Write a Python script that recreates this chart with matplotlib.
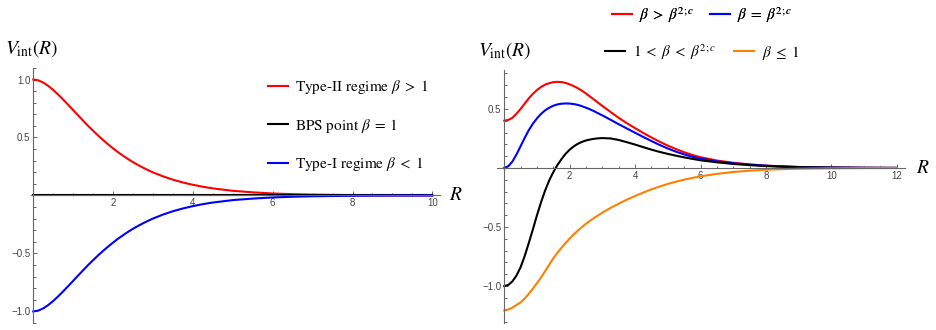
import numpy as np
import matplotlib.pyplot as plt
from matplotlib.ticker import FixedLocator, MultipleLocator

plt.rcParams['mathtext.fontset'] = 'stix'
plt.rcParams['font.family'] = 'STIXGeneral'

# left panel: readings
r_left = [0, 0.125, 0.25, 0.375, 0.5, 0.625, 0.75, 0.875, 1.0, 1.125, 1.25,
          1.375, 1.5, 1.625, 1.75, 1.875, 2.0, 2.125, 2.25, 2.375, 2.5,
          2.625, 2.75, 2.875, 3.0, 3.25, 3.5, 3.75, 4.0, 4.25, 4.5, 5.0, 5.5,
          6.0, 6.5, 7.0, 7.5, 8.0, 9.0, 10.0]
type2 = [1.0, 0.993, 0.974, 0.945, 0.91, 0.87, 0.827, 0.782, 0.736, 0.69,
         0.645, 0.6, 0.558, 0.517, 0.478, 0.441, 0.406, 0.373, 0.343, 0.314,
         0.287, 0.263, 0.24, 0.219, 0.199, 0.165, 0.136, 0.112, 0.092, 0.075,
         0.061, 0.04, 0.027, 0.017, 0.011, 0.007, 0.0047, 0.003, 0.0012,
         0.0005]
bps = [0.0] * len(r_left)
type1 = [-v for v in type2]

# right panel
r_right = [0, 0.125, 0.25, 0.375, 0.5, 0.625, 0.75, 0.875, 1.0, 1.125, 1.25,
           1.375, 1.5, 1.625, 1.75, 1.875, 2.0, 2.125, 2.25, 2.375, 2.5,
           2.625, 2.75, 2.875, 3.0, 3.25, 3.5, 3.75, 4.0, 4.25, 4.5, 4.75,
           5.0, 5.25, 5.5, 5.75, 6.0, 6.5, 7.0, 7.5, 8.0, 8.5, 9.0, 10.0,
           11.0, 12.0]
above_crit = [0.40, 0.407, 0.425, 0.46, 0.5, 0.545, 0.59, 0.628, 0.66, 0.686,
              0.705, 0.718, 0.726, 0.729, 0.727, 0.72, 0.708, 0.693, 0.675,
              0.654, 0.63, 0.604, 0.578, 0.551, 0.525, 0.474, 0.424, 0.379,
              0.337, 0.296, 0.258, 0.222, 0.189, 0.16, 0.133, 0.11, 0.091,
              0.063, 0.044, 0.03, 0.02, 0.013, 0.0085, 0.0035, 0.0014, 0.0006]
at_crit = [0.0, 0.015, 0.055, 0.115, 0.185, 0.255, 0.32, 0.375, 0.42, 0.458,
           0.488, 0.51, 0.527, 0.538, 0.544, 0.546, 0.545, 0.541, 0.534,
           0.523, 0.51, 0.496, 0.48, 0.462, 0.445, 0.408, 0.37, 0.334, 0.298,
           0.262, 0.228, 0.195, 0.165, 0.138, 0.115, 0.095, 0.079, 0.056,
           0.04, 0.028, 0.019, 0.0125, 0.008, 0.0033, 0.0013, 0.0005]
between = [-1.0, -0.99, -0.96, -0.91, -0.84, -0.745, -0.635, -0.52, -0.4,
           -0.29, -0.19, -0.105, -0.035, 0.025, 0.075, 0.12, 0.155, 0.183,
           0.205, 0.221, 0.233, 0.241, 0.247, 0.251, 0.253, 0.25, 0.237,
           0.218, 0.198, 0.176, 0.155, 0.136, 0.119, 0.104, 0.09, 0.077,
           0.065, 0.048, 0.034, 0.024, 0.016, 0.011, 0.007, 0.003, 0.0012,
           0.0005]
below_one = [-1.206, -1.198, -1.182, -1.16, -1.138, -1.105, -1.065, -1.022,
             -0.975, -0.927, -0.873, -0.818, -0.765, -0.718, -0.675, -0.635,
             -0.597, -0.562, -0.53, -0.5, -0.472, -0.446, -0.422, -0.4,
             -0.378, -0.338, -0.302, -0.268, -0.237, -0.208, -0.181, -0.157,
             -0.135, -0.116, -0.099, -0.084, -0.071, -0.05, -0.034, -0.023,
             -0.015, -0.01, -0.0065, -0.0027, -0.0011, -0.0004]

RED, BLUE, BLACK, ORANGE = '#ff0000', '#0000ff', '#000000', '#ff8000'
AXIS_GREY = '#666666'


def style_axes(ax, xmajor, ymajor):
    for side in ['top', 'right']:
        ax.spines[side].set_visible(False)
    ax.spines['left'].set_position(('data', 0))
    ax.spines['bottom'].set_position(('data', 0))
    for side in ['left', 'bottom']:
        ax.spines[side].set_color(AXIS_GREY)
        ax.spines[side].set_linewidth(0.8)
    ax.xaxis.set_major_locator(FixedLocator(xmajor))
    ax.yaxis.set_major_locator(FixedLocator(ymajor))
    ax.xaxis.set_minor_locator(MultipleLocator(0.5))
    ax.yaxis.set_minor_locator(MultipleLocator(0.1))
    ax.tick_params(which='both', direction='in', colors=AXIS_GREY,
                   labelcolor='#444444', labelsize=7, pad=2, width=0.7)
    ax.tick_params(which='major', length=3.2)
    ax.tick_params(which='minor', length=1.8)
    for lab in ax.get_xticklabels() + ax.get_yticklabels():
        lab.set_family('Liberation Sans')
    ax.yaxis.set_major_formatter(lambda v, p: f'{v:.1f}'.replace('-', '\u2212'))


fig = plt.figure(figsize=(9.36, 3.3), dpi=100)
legend_kw = dict(frameon=False, fontsize=11, handlelength=1.3,
                 handletextpad=0.5, borderpad=0)

# ---- left panel
ax1 = fig.add_axes([0.0334, 0.0212, 0.437, 0.773])
h1, = ax1.plot(r_left, type2, color=RED, lw=1.5)
h2, = ax1.plot(r_left, bps, color=BLACK, lw=1.5)
h3, = ax1.plot(r_left, type1, color=BLUE, lw=1.5)
ax1.set_xlim(-0.05, 10.2)
ax1.set_ylim(-1.1, 1.1)
style_axes(ax1, [2, 4, 6, 8, 10], [-1.0, -0.5, 0.5, 1.0])
ax1.legend([h1, h2, h3],
           [r'Type-II regime $\beta\;>\;1$', r'BPS point $\beta\;=\;1$',
            r'Type-I regime $\beta\;<\;1$'],
           loc='upper left', bbox_to_anchor=(0.56, 0.99),
           labelspacing=1.35, **legend_kw)
fig.text(5 / 936, 1 - 49 / 330, r'$V_{\rm int}(R)$', fontsize=14,
         ha='left', va='center')
fig.text(456 / 936, 1 - 195 / 330, r'$R$', fontsize=14,
         ha='center', va='center')

# ---- right panel
ax2 = fig.add_axes([0.5307, 0.0221, 0.4362, 0.766])
g1, = ax2.plot(r_right, above_crit, color=RED, lw=1.5)
g2, = ax2.plot(r_right, at_crit, color=BLUE, lw=1.5)
g3, = ax2.plot(r_right, between, color=BLACK, lw=1.5)
g4, = ax2.plot(r_right, below_one, color=ORANGE, lw=1.5)
ax2.set_xlim(-0.23, 12.25)
ax2.set_ylim(-1.31, 0.83)
style_axes(ax2, [2, 4, 6, 8, 10, 12], [-1.0, -0.5, 0.5])
leg_top = fig.legend([g1, g2], [r'$\beta\;>\;\beta^{2;c}$',
                                r'$\beta\;=\;\beta^{2;c}$'],
                     loc='center', bbox_to_anchor=(702 / 936, 1 - 15 / 330),
                     ncol=2, columnspacing=1.0, **legend_kw)
fig.add_artist(leg_top)
fig.legend([g3, g4], [r'$1\;<\;\beta\;<\;\beta^{2;c}$', r'$\beta\;\leq\;1$'],
           loc='center', bbox_to_anchor=(702 / 936, 1 - 52 / 330),
           ncol=2, columnspacing=1.2, **legend_kw)
fig.text(478 / 936, 1 - 51 / 330, r'$V_{\rm int}(R)$', fontsize=14,
         ha='left', va='center')
fig.text(923 / 936, 1 - 168 / 330, r'$R$', fontsize=14,
         ha='center', va='center')

fig.savefig('out.png', dpi=100)
